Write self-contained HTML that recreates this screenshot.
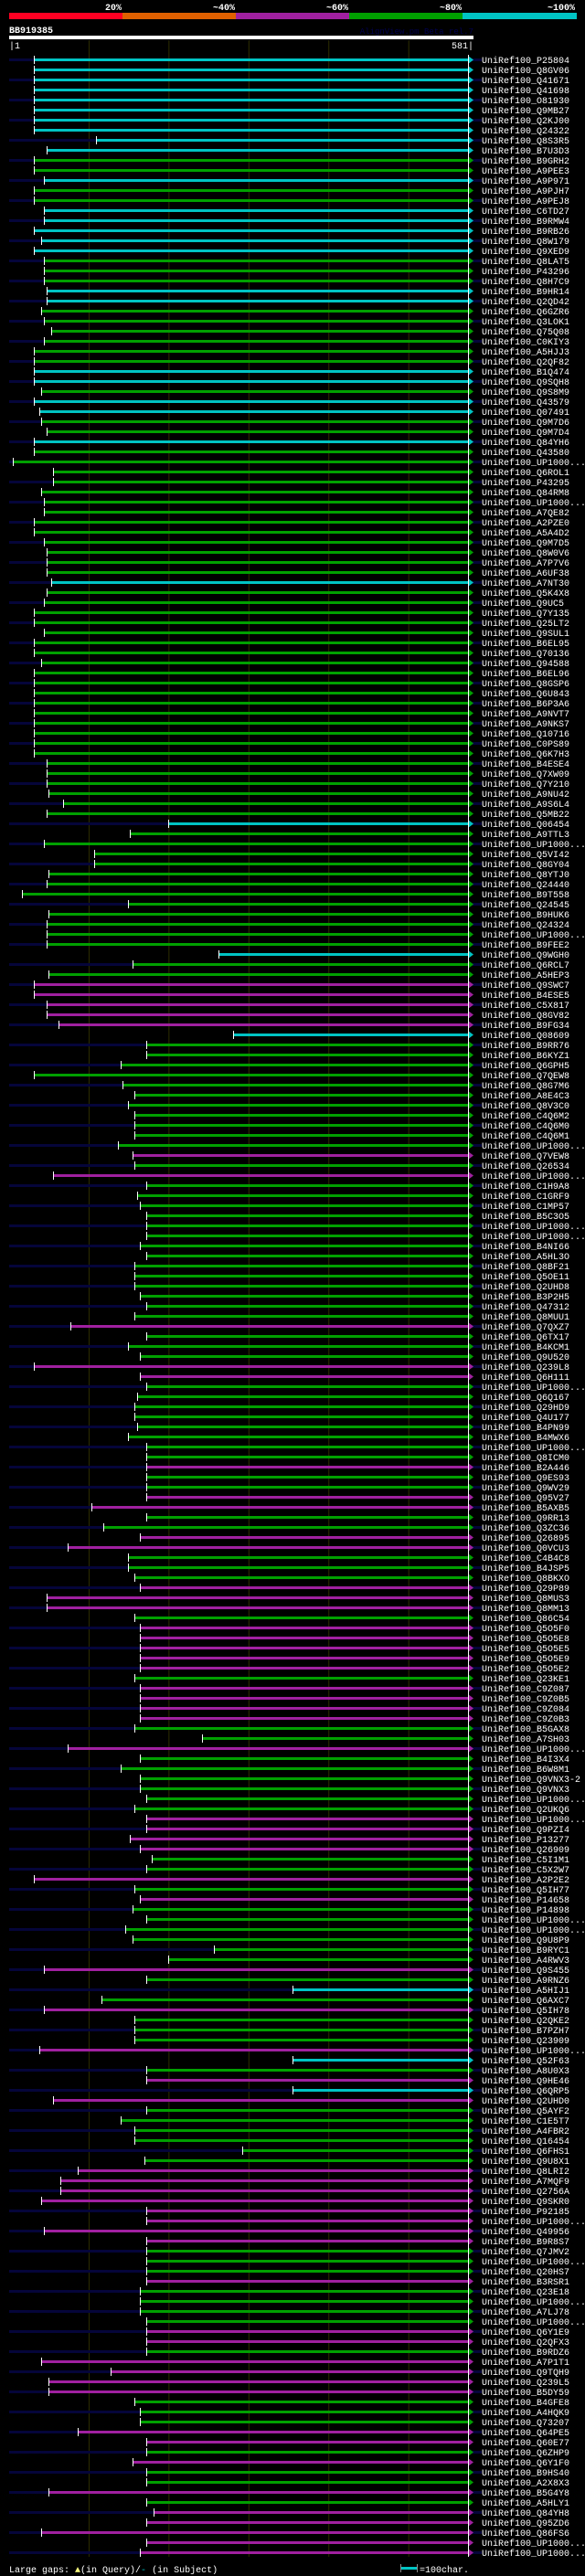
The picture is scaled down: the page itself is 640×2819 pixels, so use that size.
<!DOCTYPE html>
<html><head><meta charset="utf-8"><style>
html,body{margin:0;padding:0;background:#000;}
svg{display:block;}
text{font-family:"Liberation Mono","DejaVu Sans Mono",monospace;}
</style></head><body>
<svg id="chart" width="640" height="2819" viewBox="0 0 640 2819" xmlns="http://www.w3.org/2000/svg">
<rect x="0" y="0" width="640" height="2819" fill="#000"/>
<g>
<rect x="10" y="14" width="124" height="7" fill="#ff0022"/>
<rect x="134" y="14" width="124" height="7" fill="#e06000"/>
<rect x="258" y="14" width="124" height="7" fill="#a020a0"/>
<rect x="382" y="14" width="124" height="7" fill="#00a000"/>
<rect x="506" y="14" width="125" height="7" fill="#00c4c4"/>
<text x="133" y="11" fill="#fff" font-size="10" font-weight="bold" text-anchor="end">20%</text>
<text x="257" y="11" fill="#fff" font-size="10" font-weight="bold" text-anchor="end">~40%</text>
<text x="381" y="11" fill="#fff" font-size="10" font-weight="bold" text-anchor="end">~60%</text>
<text x="505" y="11" fill="#fff" font-size="10" font-weight="bold" text-anchor="end">~80%</text>
<text x="629" y="11" fill="#fff" font-size="10" font-weight="bold" text-anchor="end">~100%</text>
</g>
<text x="10" y="36" fill="#fff" font-size="10" font-weight="bold">BB919385</text>
<text x="518" y="37" fill="#000050" font-size="9" text-anchor="end">AlignView.pm Beta rel.7</text>
<rect x="10" y="39" width="508" height="4" fill="#fff"/>
<text x="10" y="53" fill="#fff" font-size="10">|1</text>
<text x="518" y="53" fill="#fff" font-size="10" text-anchor="end">581|</text>
<g id="grid"></g>
<g id="rows"></g>
<text x="10" y="2815" fill="#fff" font-size="10">Large gaps: <tspan fill="#ffff80">▲</tspan>(in Query)/<tspan fill="#00c4c4">-</tspan> (in Subject)</text>
<g>
<rect x="439" y="2809" width="17" height="3" fill="#00c4c4"/>
<rect x="438" y="2806" width="1" height="9" fill="#888"/>
<rect x="456" y="2806" width="1" height="9" fill="#888"/>
<text x="459" y="2815" fill="#fff" font-size="10">=100char.</text>
</g>
</svg>
<script>
const queryLength = 581;
const starts = [31,31,31,31,31,31,31,31,109,47,31,31,43,31,31,43,43,31,40,31,43,43,43,47,47,40,43,53,43,31,31,
31,31,40,31,38,40,47,31,31,5,55,55,40,43,43,31,31,43,47,47,47,53,47,43,31,31,43,31,31,40,31,31,
31,31,31,31,31,31,31,47,47,47,49,67,47,199,151,43,106,106,49,47,16,149,49,47,47,47,262,154,49,31,31,
47,47,62,280,172,172,140,31,142,157,149,157,157,157,136,154,157,55,172,160,164,172,172,172,164,172,157,157,157,164,172,157,
77,172,149,164,31,164,172,160,157,157,160,149,172,172,172,172,172,172,103,172,118,164,73,149,149,157,164,47,
47,157,164,164,164,164,164,157,164,164,164,164,157,241,73,164,140,164,164,172,157,172,172,151,164,178,172,31,157,
164,154,172,145,154,256,199,43,172,355,116,43,157,157,157,38,355,172,172,355,55,172,140,157,157,292,169,86,64,
64,40,172,172,43,172,172,172,172,172,164,164,164,172,172,172,172,40,127,49,49,157,164,164,86,172,172,154,
172,172,49,172,181,172,40,172,164];
const identityClass = ("cccccccccc"+"ggcggccccc"+"gggccgggggg"+"ccgccggcgg"+"ggggggggggg"+"c"+"gggggggggg"+"ggggggggggggg"+"c"+"gggggggggggg"+"c"+"gg"+"ppppp"+"c"+"ggggggggggg"+"p"+"g"+"p"+"gggggggggggggg"+"p"+"ggg"+"pp"+"gggggggg"+"p"+"gg"+"pp"+"gg"+"pp"+"ggg"+"ppp"+"g"+"ppppp"+"g"+"pppp"+"gg"+"p"+"gggggg"+"pppp"+"gg"+"p"+"g"+"p"+"gggggg"+"p"+"g"+"c"+"g"+"p"+"ggg"+"p"+"c"+"g"+"p"+"c"+"p"+"gggggg"+"pppppppp"+"ggg"+"p"+"gggg"+"pp"+"g"+"pppp"+"ggg"+"pp"+"g"+"p"+"gg"+"p"+"g"+"ppppp").split("");
const labels = ["P25804","Q8GV06","Q41671","Q41698","O81930","Q9MB27","Q2KJ00","Q24322","Q8S3R5","B7U3D3","B9GRH2","A9PEE3","A9P971","A9PJH7","A9PEJ8","C6TD27","B9RMW4","B9RB26","Q8W179","Q9XED9","Q8LAT5","P43296","Q8H7C9","B9HR14","Q2QD42","Q6GZR6","Q3LOK1","Q75Q08","C0KIY3","A5HJJ3","Q2QF82","B1Q474","Q9SQH8","Q9S8M9","Q43579","Q07491","Q9M7D6","Q9M7D4","Q84YH6","Q43580","UP1000...","Q6ROL1","P43295","Q84RM8","UP1000...","A7QE82","A2PZE0","A5A4D2","Q9M7D5","Q8W0V6","A7P7V6","A6UF38","A7NT30","Q5K4X8","Q9UC5","Q7Y135","Q25LT2","Q9SUL1","B6EL95","Q70136","Q94588","B6EL96","Q8GSP6","Q6U843","B6P3A6","A9NVT7","A9NKS7","Q10716","C0PS89","Q6K7H3","B4ESE4","Q7XW09","Q7Y210","A9NU42","A9S6L4","Q5MB22","Q06454","A9TTL3","UP1000...","Q5VI42","Q8GY04","Q8YTJ0","Q24440","B9T558","Q24545","B9HUK6","Q24324","UP1000...","B9FEE2","Q9WGH0","Q6RCL7","A5HEP3","Q9SWC7","B4ESE5","C5X817","Q8GV82","B9FG34","Q08609","B9RR76","B6KYZ1","Q6GPH5","Q7QEW8","Q8G7M6","A8E4C3","Q8V3C0","C4Q6M2","C4Q6M0","C4Q6M1","UP1000...","Q7VEW8","Q26534","UP1000...","C1H9A8","C1GRF9","C1MP57","B5C3O5","UP1000...","UP1000...","B4NI66","A5HL3O","Q8BF21","Q5OE11","Q2UHD8","B3P2H5","Q47312","Q8MUU1","Q7QXZ7","Q6TX17","B4KCM1","Q9U520","Q239L8","Q6H111","UP1000...","Q6Q167","Q29HD9","Q4U177","B4PN99","B4MWX6","UP1000...","Q8ICM0","B2A446","Q9ES93","Q9WV29","Q95V27","B5AXB5","Q9RR13","Q3ZC36","Q26895","Q0VCU3","C4B4C8","B4JSP5","Q8BKXO","Q29P89","Q8MUS3","Q8MM13","Q86C54","Q5O5F0","Q5O5E8","Q5O5E5","Q5O5E9","Q5O5E2","Q23KE1","C9Z087","C9Z0B5","C9Z084","C9Z0B3","B5GAX8","A7SH03","UP1000...","B4I3X4","B6W8M1","Q9VNX3-2","Q9VNX3","UP1000...","Q2UKQ6","UP1000...","Q9PZI4","P13277","Q26909","C5I1M1","C5X2W7","A2P2E2","Q5IH77","P14658","P14898","UP1000...","UP1000...","Q9U8P9","B9RYC1","A4RWV3","Q9S455","A9RNZ6","A5HIJ1","Q6AXC7","Q5IH78","Q2QKE2","B7PZH7","Q23909","UP1000...","Q52F63","A8U0X3","Q9HE46","Q6QRP5","Q2UHD0","Q5AYF2","C1E5T7","A4FBR2","Q16454","Q6FHS1","Q9U8X1","Q8LRI2","A7MQF9","Q2756A","Q9SKR0","P92185","UP1000...","Q49956","B9R8S7","Q7JMV2","UP1000...","Q20HS7","B3RSR1","Q23E18","UP1000...","A7LJ78","UP1000...","Q6Y1E9","Q2QFX3","B9RDZ6","A7P1T1","Q9TQH9","Q239L5","B5DY59","B4GFE8","A4HQK9","Q73207","Q64PE5","Q60E77","Q6ZHP9","Q6Y1F0","B9HS40","A2X8X3","B5G4Y8","A5HLY1","Q84YH8","Q95ZD6","Q86FS6"];
const gridTicks = [100,200,300,400,500];

const NS = "http://www.w3.org/2000/svg";
const X0 = 10, X1 = 518, BAR_END = 512, ROW0 = 65, PITCH = 11;
const colorMap = {c:"#00c4c4", g:"#00a000", p:"#a020a0"};
function xScale(pos){ return X0 + pos * (X1 - X0) / queryLength; }
function yRow(i){ return ROW0 + i * PITCH; }
function mk(tag, attrs){ const e = document.createElementNS(NS, tag); for (const k in attrs) e.setAttribute(k, attrs[k]); return e; }

const grid = document.getElementById("grid");
gridTicks.forEach(t => {
  const l = mk("line", {x1:xScale(t), x2:xScale(t), y1:44, y2:2798, stroke:"#2e2e00", "stroke-width":1});
  
  
  grid.appendChild(l);
});

const rows = document.getElementById("rows");
const n = starts.length;
for (let i = 0; i < n; i++) {
  const y = yRow(i);
  const col = colorMap[identityClass[i] || "g"];
  const g = mk("g", {});
  
  
  if (i % 2 === 0) {
    const bg = mk("rect", {x:X0, y:y-1, width:527-X0, height:3, fill:"#05053a"});
    
    
    g.appendChild(bg);
  }
  const sx = Math.round(xScale(starts[i]));
  const bar = mk("rect", {x:sx, y:y-1, width:BAR_END - sx, height:3, fill:col});
  
  
  g.appendChild(bar);
  const tick = mk("rect", {x:sx, y:y-4, width:1, height:9, fill:"#fff"});
  
  
  g.appendChild(tick);
  const tri = mk("polygon", {points:`${BAR_END},${y-4} ${BAR_END+6},${y+0.5} ${BAR_END},${y+5}`, fill:col});
  
  
  g.appendChild(tri);
  const lab = mk("text", {x:527, y:y+4, fill:"#fff", "font-size":10});
  lab.textContent = "UniRef100_" + (labels[i] || "UP1000...");
  
  
  g.appendChild(lab);
  rows.appendChild(g);
}
const vline = mk("rect", {x:BAR_END, y:ROW0-5, width:1, height:yRow(n-1)-ROW0+10, fill:"#fff"});


rows.appendChild(vline);
</script>
</body></html>
